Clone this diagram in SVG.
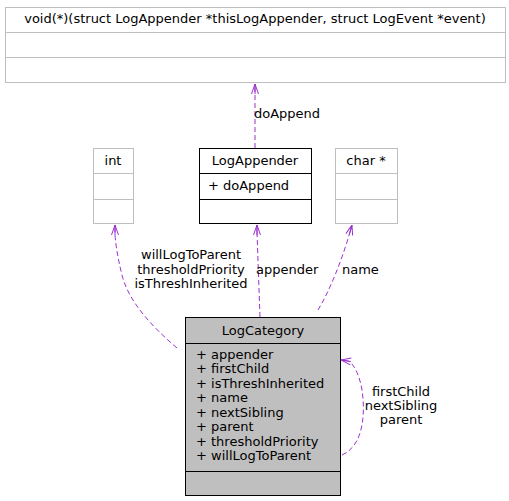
<svg xmlns="http://www.w3.org/2000/svg" width="509" height="501" viewBox="0 0 509 501">
<style>
text{font-family:"DejaVu Sans",sans-serif;font-size:13px;fill:#000}
.g{fill:#fff;stroke:#bfbfbf;stroke-width:1}
.b{fill:#fff;stroke:#000;stroke-width:1}
.c{fill:#bfbfbf;stroke:#000;stroke-width:1}
.e{fill:none;stroke:#9a32cd;stroke-width:1;stroke-dasharray:5,3}
.h{fill:none;stroke:#9a32cd;stroke-width:1;marker-start:url(#a)}
.m{text-anchor:middle}
</style>
<defs>
<marker id="a" markerWidth="12" markerHeight="12" refX="0" refY="6" orient="auto" markerUnits="userSpaceOnUse" viewBox="0 0 12 12">
<path d="M10,2.5 L0,6 L10,9.5 M0,6 L10,6" fill="none" stroke="#9a32cd" stroke-width="1"/>
</marker>
</defs>
<rect width="509" height="501" fill="#fff"/>
<g id="edges">
<path class="e" d="M255,148 L255,92"/>
<path class="h" d="M255,84 L255,92"/>
<path class="e" d="M177,348 C150,325 128,300 122,275 C117,255 115,240 115,232"/>
<path class="h" d="M115,225 L115,232"/>
<path class="e" d="M260,317 L257,232"/>
<path class="h" d="M257,225 L257,232"/>
<path class="e" d="M318,310 C330,290 342,260 350,232"/>
<path class="h" d="M352,225 L350,232"/>
<path class="e" d="M342,455 C365,445 365,410 362,390 C359,372 352,362 348,361"/>
<path class="h" d="M341,360 L348,361"/>
<text x="254" y="118">doAppend</text>
<text class="m" x="191" y="259">willLogToParent</text>
<text class="m" x="191" y="274">thresholdPriority</text>
<text class="m" x="191" y="288">isThreshInherited</text>
<text x="256" y="274">appender</text>
<text x="342" y="274">name</text>
<text class="m" x="401" y="396">firstChild</text>
<text class="m" x="401" y="410">nextSibling</text>
<text class="m" x="401" y="424">parent</text>
</g>
<g id="fnptr">
<rect class="g" x="5.5" y="7.5" width="500" height="75"/>
<line class="g" x1="5.5" y1="32.5" x2="505.5" y2="32.5"/>
<line class="g" x1="5.5" y1="57.5" x2="505.5" y2="57.5"/>
<text class="m" x="255" y="23">void(*)(struct LogAppender *thisLogAppender, struct LogEvent *event)</text>
</g>
<g id="int">
<rect class="g" x="93.5" y="148.5" width="40" height="75"/>
<line class="g" x1="93.5" y1="173.5" x2="133.5" y2="173.5"/>
<line class="g" x1="93.5" y1="199.5" x2="133.5" y2="199.5"/>
<text class="m" x="113" y="165">int</text>
</g>
<g id="LogAppender">
<rect class="b" x="199.5" y="148.5" width="112" height="75"/>
<line class="b" x1="199.5" y1="173.5" x2="311.5" y2="173.5"/>
<line class="b" x1="199.5" y1="199.5" x2="311.5" y2="199.5"/>
<text class="m" x="255" y="165">LogAppender</text>
<text x="208" y="190">+ doAppend</text>
</g>
<g id="char">
<rect class="g" x="335.5" y="148.5" width="62" height="75"/>
<line class="g" x1="335.5" y1="173.5" x2="397.5" y2="173.5"/>
<line class="g" x1="335.5" y1="199.5" x2="397.5" y2="199.5"/>
<text class="m" x="366" y="165">char *</text>
</g>
<g id="LogCategory">
<rect class="c" x="185.5" y="317.5" width="155" height="178"/>
<line class="c" x1="185.5" y1="343.5" x2="340.5" y2="343.5"/>
<line class="c" x1="185.5" y1="471.5" x2="340.5" y2="471.5"/>
<text class="m" x="263" y="335">LogCategory</text>
<text x="196" y="359">+ appender</text>
<text x="196" y="373">+ firstChild</text>
<text x="196" y="388">+ isThreshInherited</text>
<text x="196" y="402">+ name</text>
<text x="196" y="417">+ nextSibling</text>
<text x="196" y="431">+ parent</text>
<text x="196" y="446">+ thresholdPriority</text>
<text x="196" y="460">+ willLogToParent</text>
</g>
</svg>
